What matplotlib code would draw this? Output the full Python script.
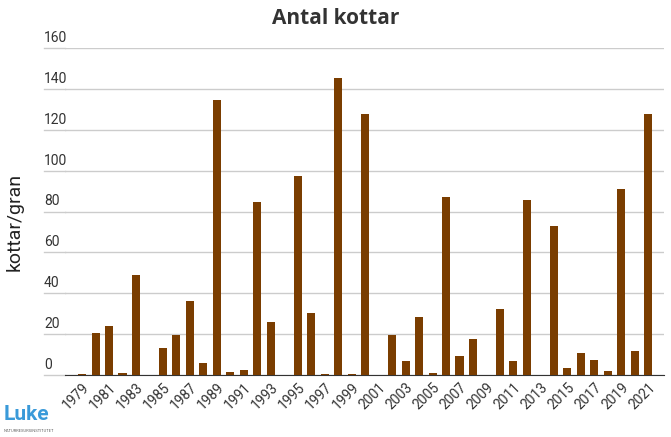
import matplotlib
matplotlib.use("Agg")
import matplotlib.pyplot as plt
import matplotlib.transforms as mtransforms

years = list(range(1979, 2022))
values = [0.3, 20.6, 23.9, 1.0, 48.8, 0, 13.1, 19.7, 36.2, 5.9, 134.5, 1.3, 2.3, 84.7, 25.9, 0,
          97.6, 30.5, 0.3, 145.3, 0.3, 127.6, 0, 19.7, 6.9, 28.5, 1.0, 87.0, 9.3, 17.4, 0, 32.4,
          7.0, 85.5, 0, 72.9, 3.4, 10.6, 7.4, 2.0, 91.2, 11.6, 127.8]
yticks = [0, 20, 40, 60, 80, 100, 120, 140, 160]

plt.rcParams['font.family'] = ['Roboto', 'DejaVu Sans']
fig = plt.figure(figsize=(6.71, 4.37), dpi=100)
ax = fig.add_axes([0.097, 0.142, 0.893, 0.748])
ax.bar(years, values, width=0.6, color='#7a3d00', zorder=3)
ax.set_xlim(1977.74, 2022.19)
ax.set_ylim(0, 160)
ax.set_yticks(yticks)
ax.set_yticklabels([])
ax.tick_params(axis='y', length=0)
ax.grid(axis='y', color='#cccccc', linewidth=1, zorder=0)
for s in ['top', 'right', 'left']:
    ax.spines[s].set_visible(False)
ax.spines['bottom'].set_color('#333333')
ax.set_xticks(years[::2])
ax.set_xticklabels([str(y) for y in years[::2]], rotation=45, ha='right',
                   rotation_mode='anchor', fontsize=10, color='#333333')
ax.tick_params(axis='x', length=0, pad=4)
trans = mtransforms.blended_transform_factory(ax.transAxes, ax.transData)
for t in yticks:
    ax.text(-0.035, t + 1.5, str(t), transform=trans, ha='left', va='bottom',
            fontsize=10, color='#333333')
    ax.plot([-0.035, 0], [t, t], transform=trans, color='#cccccc', lw=1, clip_on=False)
ax.text(-0.085, 75, 'kottar/gran', transform=trans, rotation=90, ha='center', va='center',
        fontsize=14, color='#222222')
fig.text(0.5, 0.958, 'Antal kottar', ha='center', va='center', fontsize=15,
         fontweight='bold', color='#333333', family=['Open Sans', 'DejaVu Sans'])
fig.text(0.005, 0.03, 'Luke', fontsize=15, color='#3a9ad9', fontweight='bold', ha='left', va='bottom')
fig.text(0.005, 0.01, 'NATURRESURSINSTITUTET', fontsize=3, color='#666666', ha='left', va='bottom')
fig.savefig('out.png', dpi=100)
